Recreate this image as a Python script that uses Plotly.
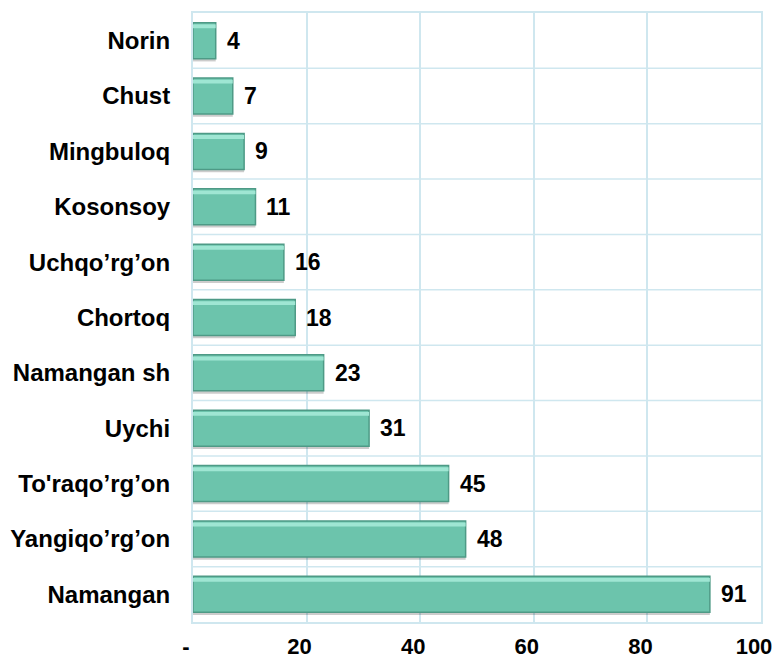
import plotly.graph_objects as go

# districts, top to bottom as in the chart
districts = ['Norin', 'Chust', 'Mingbuloq', 'Kosonsoy', 'Uchqo’rg’on', 'Chortoq',
             'Namangan sh', 'Uychi', "To'raqo’rg’on", 'Yangiqo’rg’on', 'Namangan']
values = [4, 7, 9, 11, 16, 18, 23, 31, 45, 48, 91]
tick_vals = [0, 20, 40, 60, 80, 100]
tick_text = ['-', '20', '40', '60', '80', '100']

FONT = 'Liberation Sans, Arial, sans-serif'
GRID = '#CFE7EF'
BW = 0.65  # bar thickness (fraction of band)

fig = go.Figure()
# soft shadow under each bar
fig.add_trace(go.Bar(
    x=values, y=districts, orientation='h', width=BW, offset=-BW / 2 - 0.05,
    marker=dict(color='rgba(0,0,0,0.2)', line=dict(width=0)), hoverinfo='skip',
))
# main bars
fig.add_trace(go.Bar(
    x=values, y=districts, orientation='h', width=BW, offset=-BW / 2,
    marker=dict(color='#6CC4AC', line=dict(color='#4E9A86', width=1.5)),
    hoverinfo='x+y',
))
# light bevel along the top edge
fig.add_trace(go.Bar(
    x=values, y=districts, orientation='h', width=0.07, offset=BW / 2 - 0.1,
    marker=dict(color='#9FE6D3', line=dict(width=0)), hoverinfo='skip',
))

# value labels to the right of each bar
for d, v in zip(districts, values):
    fig.add_annotation(x=v, y=d, text='<b>%d</b>' % v, showarrow=False,
                       xanchor='left', xshift=9,
                       font=dict(family=FONT, size=23, color='black'))

fig.update_layout(
    width=775, height=659,
    margin=dict(l=193, r=14, t=13, b=37),
    paper_bgcolor='white', plot_bgcolor='white',
    showlegend=False, barmode='overlay',
    font=dict(family=FONT, size=23, color='black'),
)
fig.update_xaxes(range=[0, 100], tickvals=tick_vals, ticktext=['<b>%s</b>' % t for t in tick_text],
                 tickfont=dict(size=22),
                 showgrid=True, gridcolor=GRID, gridwidth=1.5,
                 showline=True, linecolor=GRID, linewidth=2, mirror=True,
                 zeroline=False, ticks='', ticklabelshift=-7, ticklabelstandoff=4,
                 automargin=False)
fig.update_yaxes(categoryorder='array', categoryarray=districts[::-1],
                 tickvals=districts, ticktext=['<b>%s</b>' % d for d in districts],
                 tickfont=dict(size=24),
                 showgrid=False,
                 showline=True, linecolor=GRID, linewidth=2, mirror=True,
                 ticks='', ticklabelstandoff=16, automargin=False)

# horizontal grid lines sit between categories, not through them
for i in range(1, len(districts)):
    fig.add_shape(type='line', xref='paper', x0=0, x1=1, yref='y', y0=i - 0.5, y1=i - 0.5,
                  line=dict(color=GRID, width=1.5), layer='below')

# drop the default page margin so the figure fills the window exactly
fig.write_html("out.html", config={'displayModeBar': False},
               post_script="document.body.style.margin='0';document.body.style.overflow='hidden';")
